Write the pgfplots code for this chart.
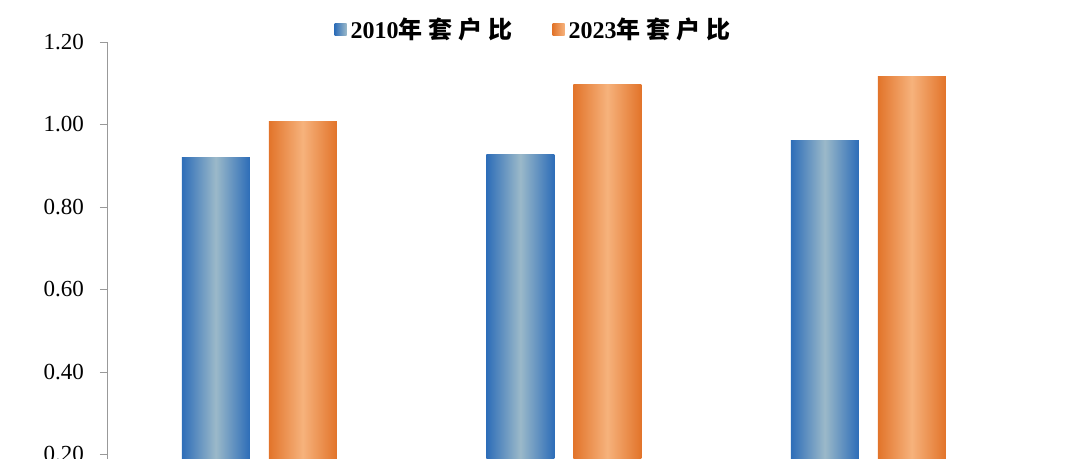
\documentclass[border=0pt]{standalone}
\usepackage{fontspec}
\setmainfont{Liberation Serif}
\newfontfamily\cjk{Noto Sans CJK SC}
\usepackage{pgfplots}
\pgfplotsset{compat=1.18}
\definecolor{bdark}{HTML}{2D6DB8}
\definecolor{blight}{HTML}{9BB9C9}
\definecolor{odark}{HTML}{E2742A}
\definecolor{olight}{HTML}{F6B27C}
\begin{document}
\begin{tikzpicture}
\useasboundingbox (-53.5pt,39pt) rectangle (486.5pt,268.5pt);
\clip (-53.5pt,39pt) rectangle (486.5pt,268.5pt);
\begin{axis}[
  at={(0pt,0pt)}, anchor=south west,
  scale only axis, width=456.75pt, height=247.5pt,
  xmin=-0.5, xmax=2.5, ymin=0, ymax=1.2,
  hide x axis,
  axis y line*=left,
  ytick={0,0.2,0.4,0.6,0.8,1.0,1.2},
  yticklabel style={/pgf/number format/fixed, /pgf/number format/fixed zerofill,
    /pgf/number format/precision=2, /pgf/number format/assume math mode=true,
    font=\fontsize{11.5}{13}\selectfont, xshift=-4.5pt},
  tick align=outside, major tick length=3.5pt,
  y axis line style={draw=gray!80},
  ytick style={draw=gray!80},
  ybar, bar width=34pt,
  blue bar/.style={draw=none, bar shift=-21.75pt, left color=bdark, right color=bdark, middle color=blight,
    legend image code/.code={\path[left color=bdark, right color=blight] (0pt,-3pt) rectangle (6pt,3pt);}},
  orange bar/.style={draw=none, bar shift=21.75pt, left color=odark, right color=odark, middle color=olight,
    legend image code/.code={\path[left color=odark, right color=olight] (0pt,-3pt) rectangle (6pt,3pt);}},
  legend style={at={(rel axis cs:0.468,1)}, anchor=center, yshift=6pt,
    draw=none, fill=none, legend columns=2,
    font=\fontsize{12}{14}\selectfont\bfseries,
    /tikz/every even column/.append style={column sep=18pt}},
]
% 2010
\addplot[blue bar] coordinates {(0,0.920)};
\addplot[orange bar] coordinates {(0,1.007)};
\addplot[blue bar, forget plot] coordinates {(1,0.928)};
\addplot[blue bar, forget plot] coordinates {(2,0.961)};
% 2023
\addplot[orange bar, forget plot] coordinates {(1,1.098)};
\addplot[orange bar, forget plot] coordinates {(2,1.116)};
\addlegendentry{2010{\cjk\bfseries 年\hspace{3pt}套\hspace{3pt}户\hspace{3pt}比}}
\addlegendentry{2023{\cjk\bfseries 年\hspace{3pt}套\hspace{3pt}户\hspace{3pt}比}}
\end{axis}
\end{tikzpicture}
\end{document}
